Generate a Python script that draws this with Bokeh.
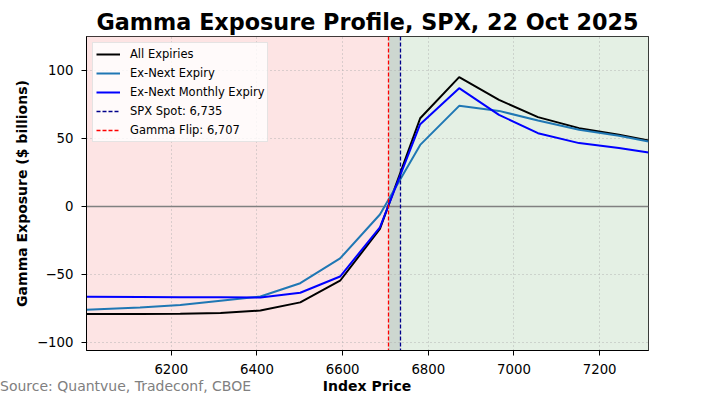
from bokeh.plotting import figure
from bokeh.models import Range1d, FixedTicker, CustomJSTickFormatter, Span, Div
from bokeh.layouts import column
from bokeh.embed import file_html
from bokeh.resources import INLINE

# ---- data ----
index_price = [6002, 6127, 6221, 6315, 6408, 6501, 6594, 6687, 6781, 6872, 6965, 7056, 7152, 7245, 7314]
all_expiries = [-79.0, -79.0, -78.9, -78.3, -76.5, -70.5, -54.6, -16.5, 64.9, 95.1, 78.4, 65.7, 57.6, 52.8, 48.5]
ex_next_expiry = [-76.0, -74.3, -72.5, -69.3, -66.2, -56.4, -38.2, -5.9, 45.3, 74.0, 70.3, 63.2, 56.4, 52.0, 47.8]
ex_next_monthly = [-66.4, -66.5, -66.7, -66.8, -66.9, -63.4, -51.5, -15.4, 60.5, 87.0, 67.4, 53.9, 46.6, 43.0, 39.7]
spot = 6735
gamma_flip = 6707
x_ticks = [6200, 6400, 6600, 6800, 7000, 7200]
y_ticks = [-100, -50, 0, 50, 100]
y_limits = (-105.9, 125.0)
x_label = "Index Price"
y_label = "Gamma Exposure ($ billions)"
source_note = "Source: Quantvue, Tradeconf, CBOE"

FONT = "DejaVu Sans"
W = 707
FIG_H = 380
NOTE_H = 15

p = figure(width=W, height=FIG_H, output_backend="svg", toolbar_location=None,
           x_range=Range1d(index_price[0], index_price[-1]),
           y_range=Range1d(*y_limits),
           min_border_left=86, min_border_right=59, min_border_top=36, min_border_bottom=30)

p.title.text = "Gamma Exposure Profile, SPX, 22 Oct 2025"
p.title.align = "center"
p.title.text_font = FONT
p.title.text_font_size = "22.3px"
p.title.text_font_style = "bold"
p.title.text_color = "black"
p.title.standoff = 3

p.background_fill_color = "white"
p.border_fill_color = "white"
p.outline_line_color = "black"
p.outline_line_width = 1

# background regions
p.vstrip(x0=[index_price[0]], x1=[gamma_flip], fill_color="#fde4e4", line_color=None, level="image")
p.vstrip(x0=[gamma_flip], x1=[spot], fill_color="#cdd7d0", line_color=None, level="image")
p.vstrip(x0=[spot], x1=[index_price[-1]], fill_color="#e4f0e4", line_color=None, level="image")

# grid
p.grid.grid_line_dash = "1 3"
p.grid.grid_line_color = "#b0b0b0"
p.grid.grid_line_alpha = 0.9

# zero line
p.add_layout(Span(location=0, dimension="width", line_color="gray", line_width=1.5, level="underlay"))

# curves
p.line(index_price, all_expiries, line_color="black", line_width=2, legend_label="All Expiries")
p.line(index_price, ex_next_expiry, line_color="#1f77b4", line_width=2, legend_label="Ex-Next Expiry")
p.line(index_price, ex_next_monthly, line_color="#0000ff", line_width=2, legend_label="Ex-Next Monthly Expiry")

p.vspan(x=[spot], line_color="#00008b", line_dash="4 2", line_width=1.3, legend_label="SPX Spot: 6,735")
p.vspan(x=[gamma_flip], line_color="red", line_dash="4 2", line_width=1.3, legend_label="Gamma Flip: 6,707")

# axes
p.xaxis.ticker = FixedTicker(ticks=x_ticks)
p.yaxis.ticker = FixedTicker(ticks=y_ticks)
p.yaxis.formatter = CustomJSTickFormatter(code="return tick < 0 ? '\u2212' + Math.abs(tick) : String(tick);")
p.yaxis.axis_label = y_label
for ax in (p.xaxis, p.yaxis):
    ax.major_label_text_font = FONT
    ax.major_label_text_font_size = "13.3px"
    ax.major_label_text_color = "black"
    ax.axis_label_text_font = FONT
    ax.axis_label_text_font_size = "14px"
    ax.axis_label_text_font_style = "bold"
    ax.axis_label_text_color = "black"
    ax.minor_tick_line_color = None
    ax.major_tick_in = 0
    ax.major_tick_out = 5
    ax.axis_line_color = "black"
    ax.major_tick_line_color = "black"
p.xaxis.major_label_standoff = 8
p.yaxis.major_label_standoff = 8
p.yaxis.axis_label_standoff = 4

# legend
lg = p.legend[0]
lg.location = "top_left"
lg.margin = 6
lg.padding = 3
lg.spacing = 3
lg.glyph_height = 16
lg.label_height = 16
lg.glyph_width = 24
lg.label_standoff = 10
lg.label_text_font = FONT
lg.label_text_font_size = "11.5px"
lg.label_text_color = "black"
lg.border_line_color = "#cccccc"
lg.border_line_width = 1
lg.background_fill_alpha = 0.8

# bottom row: source note (left) and x-axis title (centred under the frame)
note = Div(
    text=(
        f'<div style="position:relative;width:{W}px;height:{NOTE_H}px;'
        f'font-family:\'{FONT}\';font-size:14px;line-height:13px;white-space:nowrap;">'
        f'<span style="position:absolute;left:0px;top:0px;color:gray;">{source_note}</span>'
        f'<span style="position:absolute;left:367px;top:0px;transform:translateX(-50%);'
        f'font-weight:bold;color:black;">{x_label}</span>'
        '</div>'
    ),
    width=W, height=NOTE_H, margin=0,
)

layout = column(p, note, spacing=0)

open("out.html", "w").write(file_html(layout, INLINE))
